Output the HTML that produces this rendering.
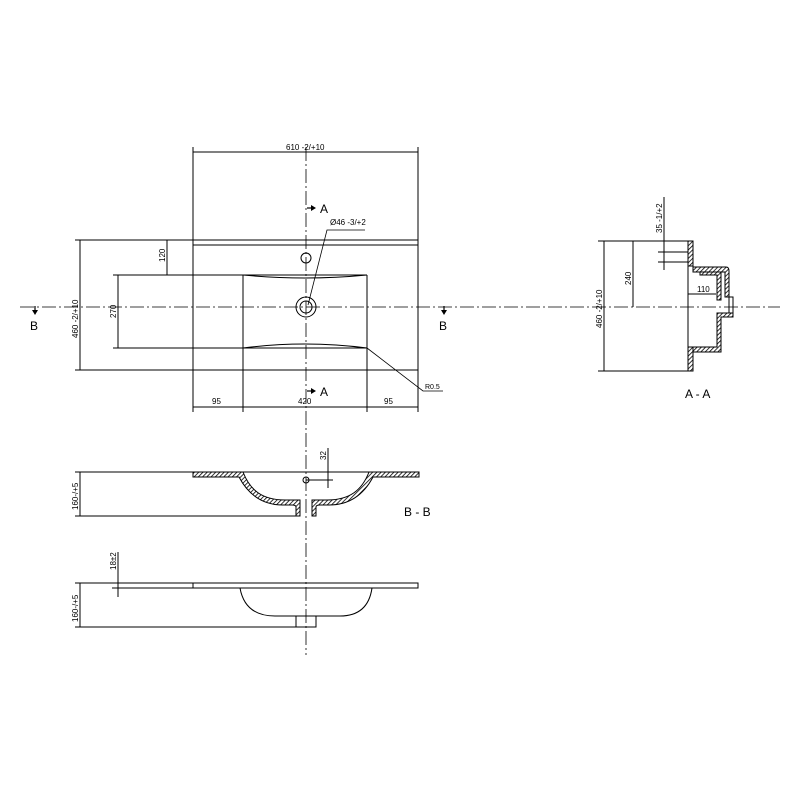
<!DOCTYPE html>
<html><head><meta charset="utf-8"><style>
body{margin:0;background:#fff}
svg{display:block}
text{font-family:"Liberation Sans",sans-serif;font-size:8px;fill:#000}
</style></head><body>
<svg width="800" height="800" viewBox="0 0 800 800" xmlns="http://www.w3.org/2000/svg">
<defs>
<pattern id="h" width="3" height="3" patternUnits="userSpaceOnUse" patternTransform="rotate(45)">
<rect width="3" height="3" fill="#fff"/><line x1="0" y1="0" x2="0" y2="3" stroke="#000" stroke-width="1.6"/>
</pattern>
</defs>
<g stroke="#000" stroke-width="1" fill="none">
<line x1="306" y1="147" x2="306" y2="655" stroke-dasharray="14,3,2,3" stroke-width="0.8"/>
<line x1="20" y1="307" x2="780" y2="307" stroke-dasharray="14,3,2,3" stroke-width="0.8"/>
<line x1="193" y1="147" x2="193" y2="240"/><line x1="418" y1="147" x2="418" y2="240"/>
<line x1="193" y1="152" x2="418" y2="152"/>
<line x1="75" y1="240" x2="418" y2="240"/>
<line x1="193" y1="245" x2="418" y2="245"/>
<line x1="75" y1="370" x2="418" y2="370"/>
<line x1="193" y1="240" x2="193" y2="412"/><line x1="418" y1="240" x2="418" y2="412"/>
<line x1="80" y1="240" x2="80" y2="370"/>
<line x1="113" y1="275" x2="243" y2="275"/><line x1="113" y1="348" x2="243" y2="348"/>
<line x1="118" y1="275" x2="118" y2="348"/>
<line x1="167" y1="240" x2="167" y2="275"/>
<path d="M243 275 Q305 281 367 275"/><path d="M243 348 Q305 340 367 348"/>
<line x1="243" y1="275" x2="367" y2="275"/>
<line x1="243" y1="275" x2="243" y2="412"/><line x1="367" y1="275" x2="367" y2="412"/>
<line x1="243" y1="348" x2="367" y2="348"/>
<circle cx="306" cy="307" r="10"/><circle cx="306" cy="307" r="6"/>
<circle cx="306" cy="258" r="5"/>
<polyline points="308,305 327,230 365,230" stroke-width="0.8"/>
<polyline points="367,348 423,391 443,391" stroke-width="0.8"/>
<line x1="193" y1="407" x2="418" y2="407"/>
<!-- A-A -->
<line x1="598" y1="241" x2="688" y2="241"/><line x1="598" y1="371" x2="688" y2="371"/>
<line x1="604" y1="241" x2="604" y2="371"/>
<line x1="633" y1="241" x2="633" y2="307"/>
<line x1="664" y1="197" x2="664" y2="270"/>
<line x1="658" y1="252" x2="688" y2="252"/><line x1="658" y1="262" x2="688" y2="262"/>
<line x1="688" y1="241" x2="688" y2="371"/>
<line x1="688" y1="294" x2="716" y2="294"/>
<g fill="url(#h)">
<rect x="688" y="241" width="5" height="25"/>
<rect x="688" y="347" width="5" height="24"/>
<path d="M693 267 H726 Q729 267 729 271 V297 H725 V272 H693 Z"/>
<path d="M700 272 H721 V300 H717 V275 H700 Z"/>
<path d="M717 313 H733 V317 H721 V352 H693 V347 H717 Z"/>
</g>
<rect x="729" y="297" width="4" height="16"/>
<!-- B-B -->
<line x1="75" y1="472" x2="193" y2="472"/><line x1="75" y1="516" x2="296" y2="516"/>
<line x1="80" y1="472" x2="80" y2="516"/>
<line x1="193" y1="472" x2="418" y2="472"/>
<path fill="url(#h)" d="M193 472 H243 C250 490 262 500 285 500 H300 V516 H296 V507 Q296 505 292 505 H283 C262 505 248 494 239 477 H193 Z"/>
<path fill="url(#h)" d="M419 472 H369 C362 490 350 500 327 500 H312 V516 H316 V507 Q316 505 320 505 H329 C350 505 364 494 373 477 H419 Z"/>
<circle cx="306" cy="480" r="3"/>
<line x1="306" y1="480" x2="333" y2="480"/>
<line x1="328" y1="448" x2="328" y2="488"/>
<!-- bottom view -->
<line x1="75" y1="583" x2="418" y2="583"/>
<rect x="193" y="583" width="225" height="5"/>
<line x1="112" y1="588" x2="193" y2="588"/>
<line x1="118" y1="552" x2="118" y2="597"/>
<line x1="75" y1="627" x2="316" y2="627"/>
<line x1="80" y1="583" x2="80" y2="627"/>
<path d="M240 588 Q245 616 275 616 H340 Q368 616 372 588"/>
<rect x="296" y="616" width="20" height="11"/>
</g>
<g fill="#000" stroke="#000" stroke-width="1.2">
<line x1="307" y1="208" x2="312" y2="208"/><path d="M311 205 L316 208 L311 211Z" stroke="none"/>
<line x1="307" y1="391" x2="312" y2="391"/><path d="M311 388 L316 391 L311 394Z" stroke="none"/>
<line x1="35" y1="306" x2="35" y2="311"/><path d="M32 310 L35 315 L38 310Z" stroke="none"/>
<line x1="444" y1="306" x2="444" y2="311"/><path d="M441 310 L444 315 L447 310Z" stroke="none"/>
</g>
<g>
<text x="286" y="150">610 -2/+10</text>
<text x="320" y="213" style="font-size:12px">A</text>
<text x="320" y="396" style="font-size:12px">A</text>
<text x="30" y="330" style="font-size:12px">B</text>
<text x="439" y="330" style="font-size:12px">B</text>
<text x="330" y="225">Ø46 -3/+2</text>
<text x="425" y="389" style="font-size:7px">R0.5</text>
<text x="212" y="404">95</text><text x="298" y="404">420</text><text x="384" y="404">95</text>
<text transform="translate(78,338) rotate(-90)">460 -2/+10</text>
<text transform="translate(116,318) rotate(-90)">270</text>
<text transform="translate(165,262) rotate(-90)">120</text>
<text transform="translate(602,328) rotate(-90)">460 -2/+10</text>
<text transform="translate(631,285) rotate(-90)">240</text>
<text transform="translate(662,233) rotate(-90)">35 -1/+2</text>
<text x="697" y="292">110</text>
<text x="685" y="398" style="font-size:12px">A - A</text>
<text transform="translate(78,510) rotate(-90)">160-/+5</text>
<text transform="translate(326,460) rotate(-90)">32</text>
<text x="404" y="516" style="font-size:12px">B - B</text>
<text transform="translate(116,570) rotate(-90)">18±2</text>
<text transform="translate(78,622) rotate(-90)">160-/+5</text>
</g>
</svg>
</body></html>
